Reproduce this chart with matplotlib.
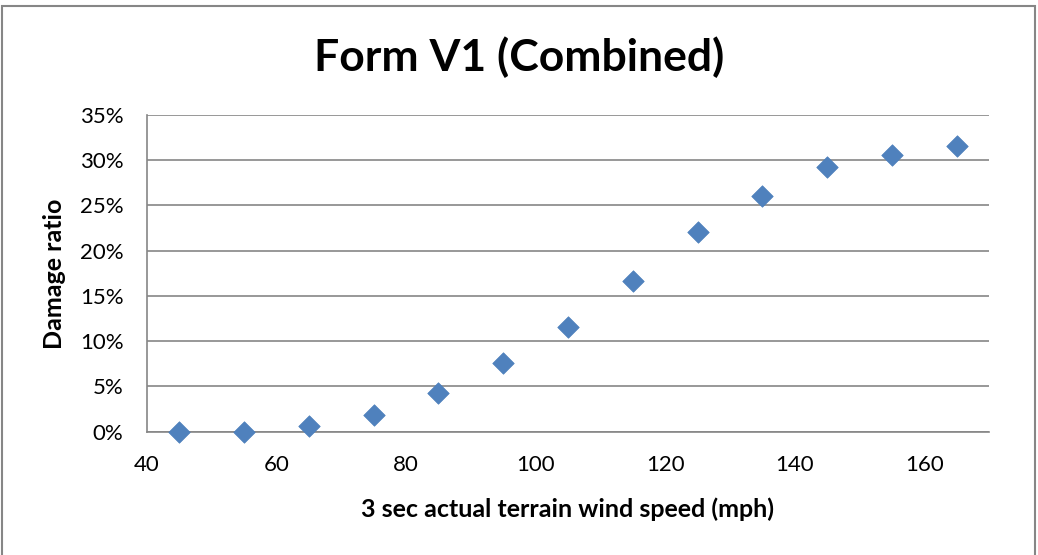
import matplotlib
matplotlib.use("Agg")
import matplotlib.pyplot as plt
from matplotlib.patches import Rectangle
from matplotlib.ticker import FuncFormatter, MultipleLocator

# values
wind_speed = [45, 55, 65, 75, 85, 95, 105, 115, 125, 135, 145, 155, 165]
damage_ratio = [0.0, 0.0, 0.6, 1.8, 4.3, 7.6, 11.6, 16.7, 22.1, 26.1, 29.2, 30.6, 31.6]

plt.rcParams["font.family"] = ["Lato", "DejaVu Sans"]

fig = plt.figure(figsize=(10.38, 5.55), dpi=100)
ax = fig.add_axes([0.1416, 0.2222, 0.8112, 0.5706])

ax.scatter(wind_speed, damage_ratio, marker="D", s=120, color="#4F81BD",
           edgecolors="#4A7EBB", linewidths=0.5, zorder=3, clip_on=False)

ax.set_xlim(40, 170)
ax.set_ylim(0, 35)
ax.yaxis.set_major_locator(MultipleLocator(5))
ax.yaxis.set_major_formatter(FuncFormatter(lambda v, p: f"{v:.0f}%"))
ax.set_xticks([40, 60, 80, 100, 120, 140, 160])

ax.grid(axis="y", color="#868686", linewidth=1.2)
ax.set_axisbelow(True)
for side in ("top", "right"):
    ax.spines[side].set_visible(False)
for side in ("left", "bottom"):
    ax.spines[side].set_color("#868686")
    ax.spines[side].set_linewidth(1.2)
ax.tick_params(axis="both", length=0, labelsize=16, colors="black")
ax.tick_params(axis="x", pad=17)
ax.tick_params(axis="y", pad=17)

fig.suptitle("Form V1 (Combined)", fontsize=32, fontweight="bold", x=0.5, y=0.935)
ax.set_xlabel("3 sec actual terrain wind speed (mph)", fontsize=18,
              fontweight="bold", labelpad=16)
ax.set_ylabel("Damage ratio", fontsize=18, fontweight="bold", labelpad=10)

# chart border
fig.patches.append(Rectangle((0.002, -0.01), 0.995, 1.0, transform=fig.transFigure,
                             fill=False, edgecolor="#868686", linewidth=1.5))

fig.savefig("out.png", dpi=100)
